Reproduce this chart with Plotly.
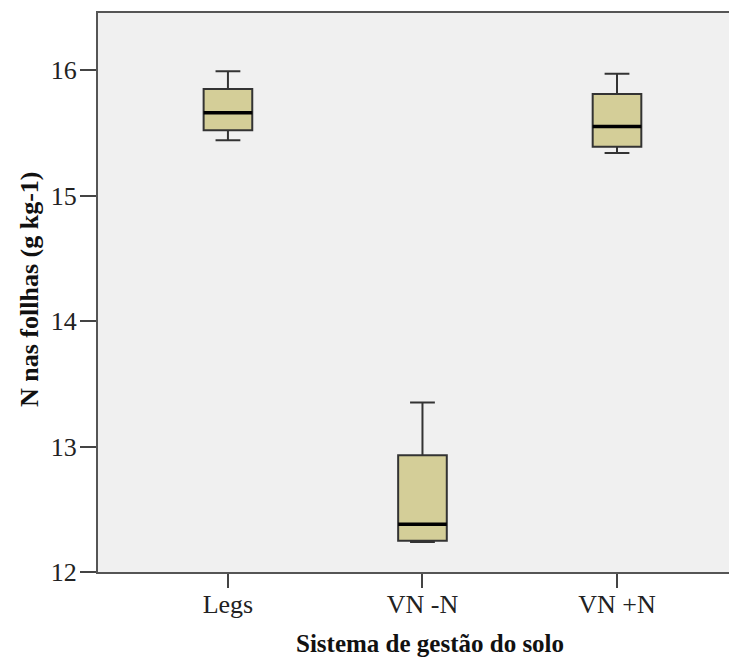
import plotly.graph_objects as go

categories = ["Legs", "VN -N", "VN +N"]
lower_whisker = [15.44, 12.24, 15.34]
q1_values = [15.52, 12.25, 15.39]
median_values = [15.66, 12.38, 15.55]
q3_values = [15.85, 12.93, 15.81]
upper_whisker = [15.99, 13.35, 15.97]
y_ticks = [12, 13, 14, 15, 16]

x_title = "Sistema de gestão do solo"
y_title = "N nas follhas (g kg-1)"

xpos = list(range(len(categories)))
half = 0.125

fig = go.Figure()
fig.add_trace(go.Box(
    x=xpos, q1=q1_values, median=median_values, q3=q3_values,
    lowerfence=lower_whisker, upperfence=upper_whisker,
    width=0.25, whiskerwidth=0.51,
    fillcolor="#D4CE98", line=dict(color="#333333", width=2),
    boxpoints=False, showlegend=False, hoverinfo="skip",
))

mx, my = [], []
for x, m in zip(xpos, median_values):
    mx += [x - half, x + half, None]
    my += [m, m, None]
fig.add_trace(go.Scatter(x=mx, y=my, mode="lines",
                         line=dict(color="#000000", width=3.5),
                         showlegend=False, hoverinfo="skip"))

fig.update_layout(
    width=737, height=661,
    margin=dict(l=90, r=0, t=5, b=97, autoexpand=False),
    paper_bgcolor="white", plot_bgcolor="#F0F0F0",
    font=dict(family="Liberation Serif", color="#222222", size=26),
    annotations=[
        dict(text="<b>" + x_title + "</b>", xref="paper", yref="paper",
             x=0.513, y=-0.1288, xanchor="center", yanchor="middle",
             showarrow=False, font=dict(size=25, color="#111111")),
        dict(text="<b>" + y_title + "</b>", xref="paper", yref="paper",
             x=-0.1051, y=0.5045, xanchor="center", yanchor="middle",
             textangle=-90, showarrow=False, font=dict(size=26, color="#111111")),
    ],
)
fig.update_xaxes(
    range=[-0.668, 2.658], tickvals=xpos, ticktext=categories,
    showgrid=False, zeroline=False,
    showline=True, linecolor="#555555", linewidth=2, mirror=True,
    ticks="outside", ticklen=14, tickwidth=2, tickcolor="#444444",
    tickfont=dict(size=26), ticklabelstandoff=-6,
    automargin=False,
)
fig.update_yaxes(
    range=[12, 16.455], tickvals=y_ticks,
    showgrid=False, zeroline=False,
    showline=True, linecolor="#555555", linewidth=2, mirror=True,
    ticks="outside", ticklen=16, tickwidth=2, tickcolor="#444444",
    tickfont=dict(size=26), ticklabelstandoff=-2,
    automargin=False,
)

fig.write_html("out.html")
